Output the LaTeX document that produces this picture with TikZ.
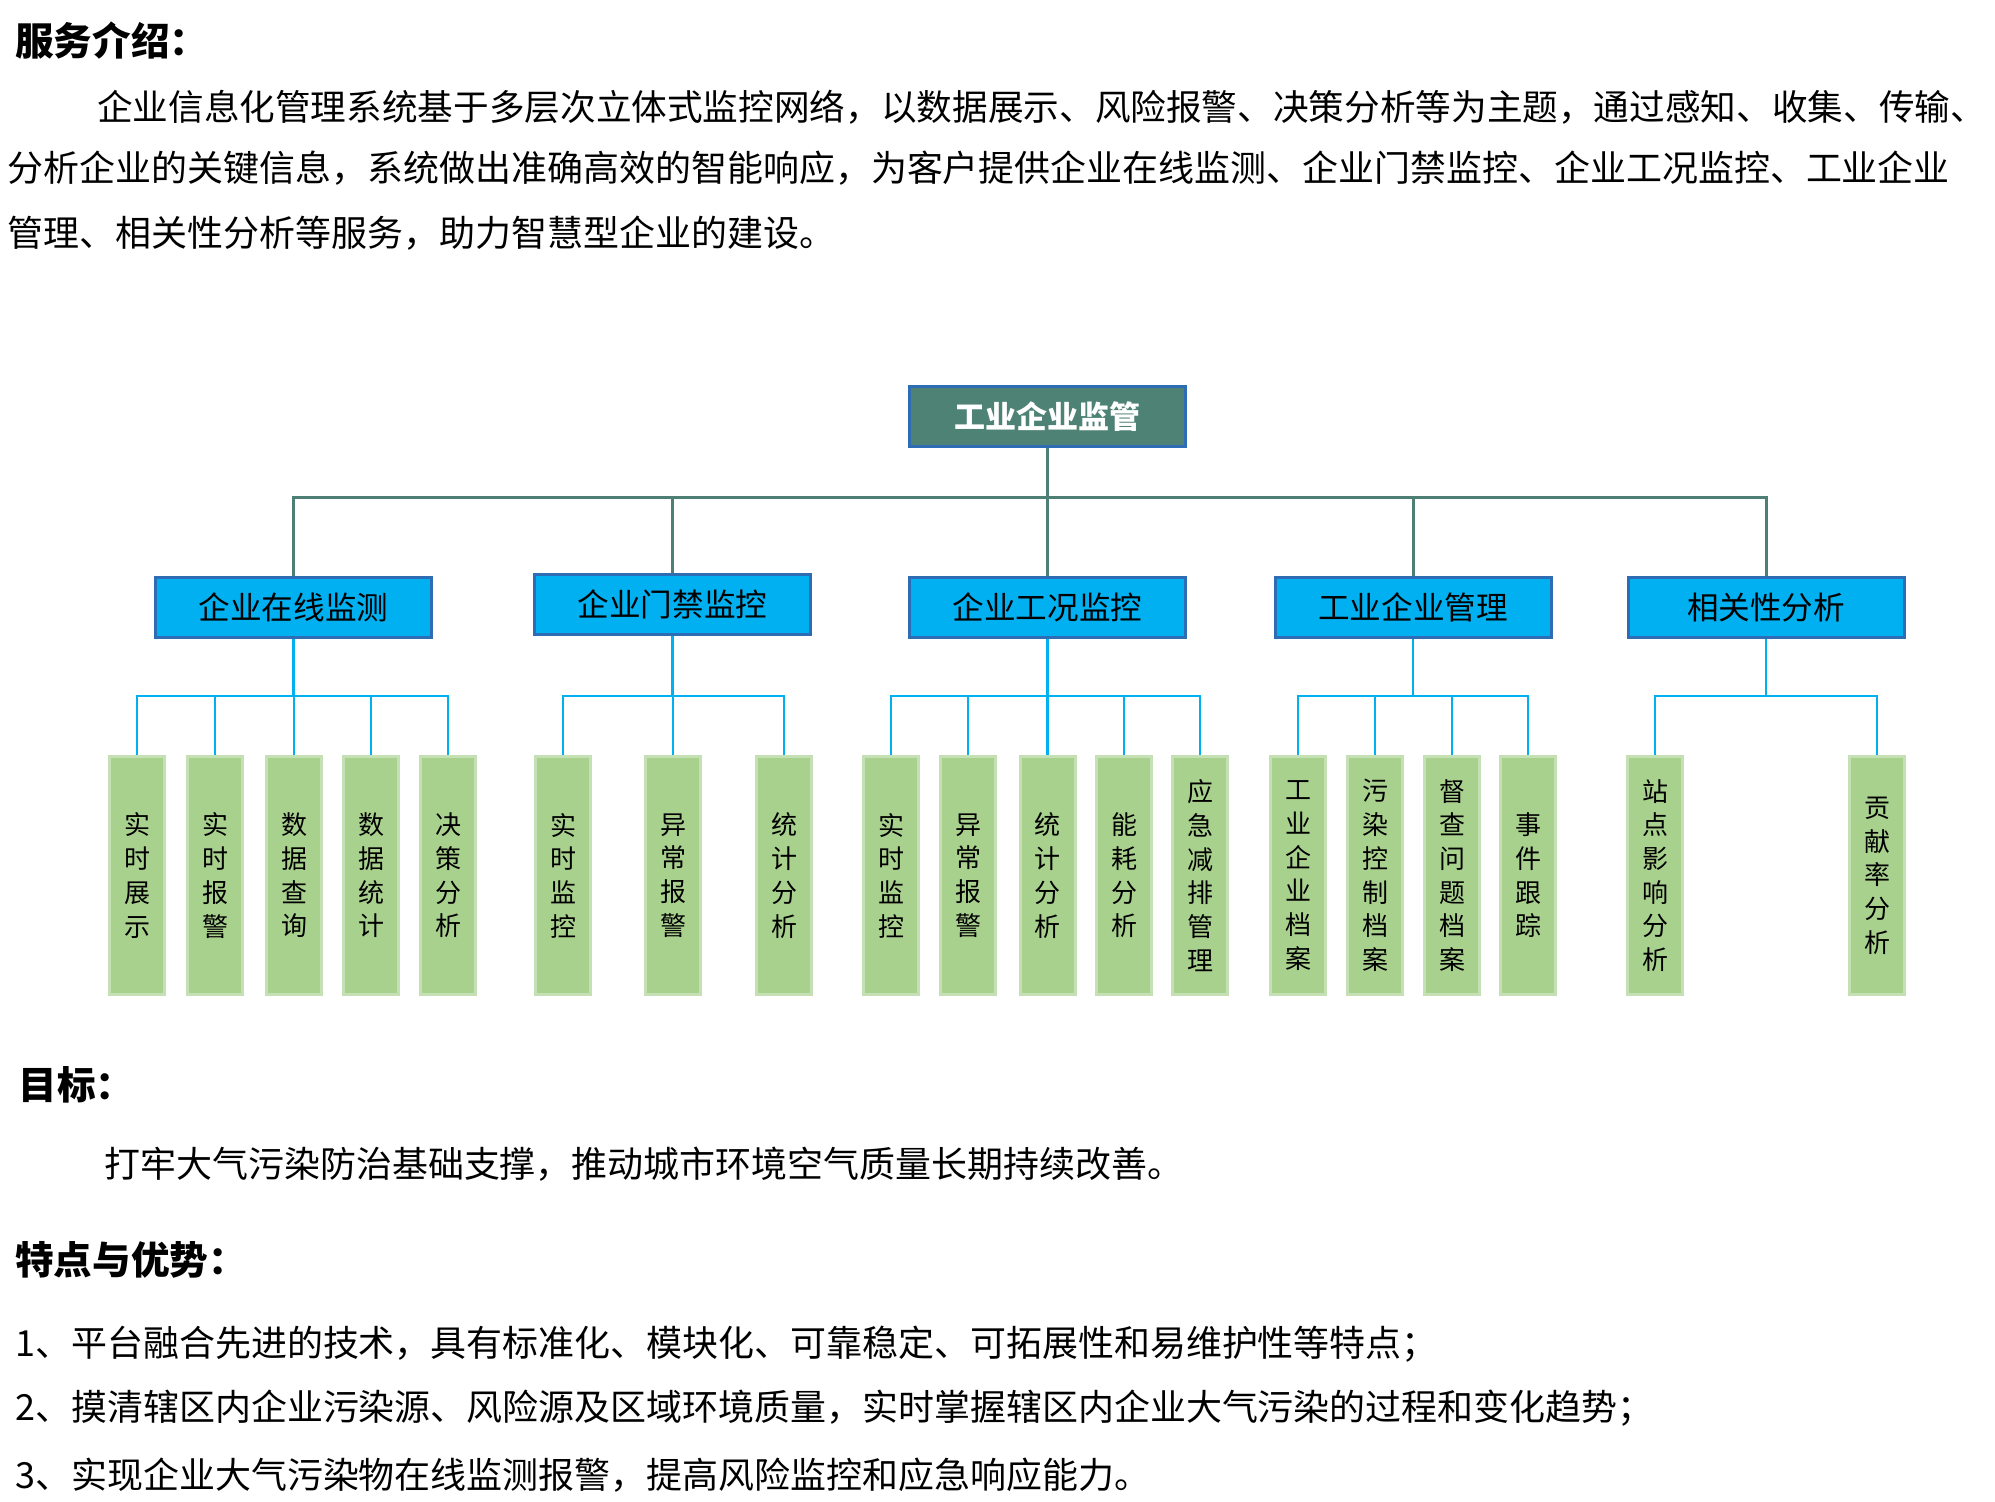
\documentclass[tikz,border=0pt]{standalone}
\usepackage{fontspec}
\setmainfont{Noto Sans CJK SC}
\definecolor{topgreen}{HTML}{4E8275}
\definecolor{boxblue}{HTML}{2E6DB4}
\definecolor{midcyan}{HTML}{00B0F0}
\definecolor{leafgreen}{HTML}{A9D18E}
\definecolor{leafedge}{HTML}{C5E0B4}
\definecolor{linegreen}{HTML}{4E7F74}
\definecolor{linecyan}{HTML}{00B0F0}
\begin{document}
\begin{tikzpicture}[x=0.5pt,y=-0.5pt,
 topbox/.style={draw=boxblue, line width=1.5pt, fill=topgreen, text=white, font=\fontsize{15.5}{18}\selectfont\bfseries, minimum width=138pt, minimum height=30pt, inner sep=0pt},
 midbox/.style={draw=boxblue, line width=1.5pt, fill=midcyan, text=black, font=\fontsize{15.8}{18}\selectfont, minimum width=138pt, minimum height=30pt, inner sep=0pt},
 leafbox/.style={draw=leafedge, line width=1.5pt, fill=leafgreen, text=black, font=\fontsize{13}{16.85}\selectfont, minimum width=27.5pt, minimum height=119pt, inner sep=0pt, align=center},
 topline/.style={draw=linegreen, line width=1.5pt},
 subline/.style={draw=linecyan, line width=1.3pt},
 heading/.style={anchor=west, inner sep=0pt, font=\fontsize{19.3}{22}\selectfont\bfseries},
 bodytext/.style={anchor=west, inner sep=0pt, font=\fontsize{17.98}{20}\selectfont}
]
\fill[white] (0,0) rectangle (1995,1501);
\useasboundingbox (0,0) rectangle (1995,1501);

% ---------- text ----------
\node[heading] (h1) at (15,41) {服务介绍：};
\node[bodytext, font=\fontsize{17.82}{20}\selectfont] (p1) at (96.7,107) {企业信息化管理系统基于多层次立体式监控网络，以数据展示、风险报警、决策分析等为主题，通过感知、收集、传输、};
\node[bodytext] (p2) at (7.6,168) {分析企业的关键信息，系统做出准确高效的智能响应，为客户提供企业在线监测、企业门禁监控、企业工况监控、工业企业};
\node[bodytext] (p3) at (7.6,233) {管理、相关性分析等服务，助力智慧型企业的建设。};
\node[heading] (h2) at (18,1085) {目标：};
\node[bodytext] (g1) at (104,1164) {打牢大气污染防治基础支撑，推动城市环境空气质量长期持续改善。};
\node[heading] (h3) at (15,1260) {特点与优势：};
\node[bodytext] (f1) at (15,1344) {1、平台融合先进的技术，具有标准化、模块化、可靠稳定、可拓展性和易维护性等特点；};
\node[bodytext] (f2) at (15,1408) {2、摸清辖区内企业污染源、风险源及区域环境质量，实时掌握辖区内企业大气污染的过程和变化趋势；};
\node[bodytext] (f3) at (15,1475) {3、实现企业大气污染物在线监测报警，提高风险监控和应急响应能力。};

% ---------- tree ----------
\coordinate (busT) at (1047.5,497.5);
\coordinate (bus1) at (293.5,696);
\coordinate (bus2) at (672.5,696);
\coordinate (bus3) at (1047.5,696);
\coordinate (bus4) at (1413,696);
\coordinate (bus5) at (1766,696);

\node[topbox] (top) at (1047.5,416.5) {工业企业监管};
\node[midbox] (m1) at (293.5,607.5) {企业在线监测};
\node[midbox] (m2) at (672.5,604.5) {企业门禁监控};
\node[midbox] (m3) at (1047.5,607.5) {企业工况监控};
\node[midbox] (m4) at (1413,607.5) {工业企业管理};
\node[midbox] (m5) at (1766,607.5) {相关性分析};

% leaves
\node[leafbox] (a1) at (137,875.5) {实\\时\\展\\示};
\node[leafbox] (a2) at (215,875.5) {实\\时\\报\\警};
\node[leafbox] (a3) at (294,875.5) {数\\据\\查\\询};
\node[leafbox] (a4) at (371,875.5) {数\\据\\统\\计};
\node[leafbox] (a5) at (448,875.5) {决\\策\\分\\析};

\node[leafbox] (b1) at (563,875.5) {实\\时\\监\\控};
\node[leafbox] (b2) at (673,875.5) {异\\常\\报\\警};
\node[leafbox] (b3) at (784,875.5) {统\\计\\分\\析};

\node[leafbox] (c1) at (891,875.5) {实\\时\\监\\控};
\node[leafbox] (c2) at (968,875.5) {异\\常\\报\\警};
\node[leafbox] (c3) at (1047.5,875.5) {统\\计\\分\\析};
\node[leafbox] (c4) at (1124,875.5) {能\\耗\\分\\析};
\node[leafbox] (c5) at (1200,875.5) {应\\急\\减\\排\\管\\理};

\node[leafbox] (d1) at (1298,875.5) {工\\业\\企\\业\\档\\案};
\node[leafbox] (d2) at (1375,875.5) {污\\染\\控\\制\\档\\案};
\node[leafbox] (d3) at (1452,875.5) {督\\查\\问\\题\\档\\案};
\node[leafbox] (d4) at (1528,875.5) {事\\件\\跟\\踪};

\node[leafbox] (e1) at (1655,875.5) {站\\点\\影\\响\\分\\析};
\node[leafbox] (e2) at (1877,875.5) {贡\\献\\率\\分\\析};

% top connectors
\draw[topline] (top.south) -- (busT);
\foreach \m in {m1,m2,m3,m4,m5} \draw[topline] (\m.north) |- (busT);

% sub connectors
\draw[subline] (m1.south) -- (bus1);
\foreach \l in {a1,a2,a3,a4,a5} \draw[subline] (\l.north) |- (bus1);
\draw[subline] (m2.south) -- (bus2);
\foreach \l in {b1,b2,b3} \draw[subline] (\l.north) |- (bus2);
\draw[subline] (m3.south) -- (bus3);
\foreach \l in {c1,c2,c3,c4,c5} \draw[subline] (\l.north) |- (bus3);
\draw[subline] (m4.south) -- (bus4);
\foreach \l in {d1,d2,d3,d4} \draw[subline] (\l.north) |- (bus4);
\draw[subline] (m5.south) -- (bus5);
\foreach \l in {e1,e2} \draw[subline] (\l.north) |- (bus5);
\end{tikzpicture}
\end{document}
